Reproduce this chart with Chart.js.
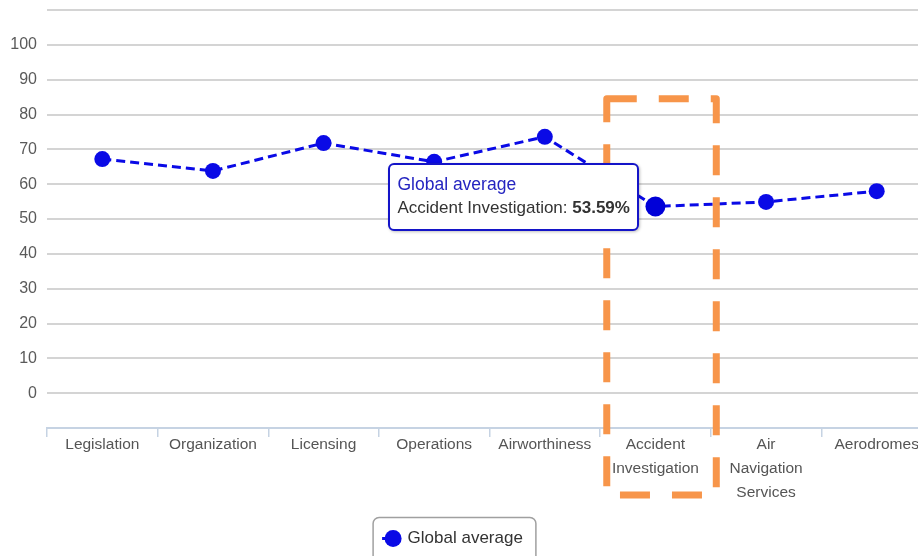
<!DOCTYPE html>
<html>
<head>
<meta charset="utf-8">
<script src="https://cdn.jsdelivr.net/npm/chart.js@4/dist/chart.umd.min.js"></script>
<style>
  html, body { margin: 0; padding: 0; background: #fff; overflow: hidden; }
  #wrap { position: relative; width: 942px; height: 580px; }
  #tip {
    position: absolute; background: #fff; border: 2px solid #1414c8; border-radius: 6px;
    padding: 7px 7px 9px 7px; font-family: "Liberation Sans", Arial, sans-serif;
    white-space: nowrap; box-shadow: 1px 1px 3px rgba(0,0,0,0.25); pointer-events: none;
    opacity: 0;
  }
  #tip .t { color: #2424c0; font-size: 17.5px; line-height: 24px; }
  #tip .b { color: #333; font-size: 17px; line-height: 24px; }
</style>
</head>
<body>
<div id="wrap">
  <canvas id="chart" width="942" height="580"></canvas>
  <div id="tip"></div>
</div>
<script>
// categorías y valores
const CATEGORIES = ['Legislation', 'Organization', 'Licensing', 'Operations', 'Airworthiness',
                    ['Accident', 'Investigation'], ['Air', 'Navigation', 'Services'], 'Aerodromes'];
const CAT_NAMES = ['Legislation', 'Organization', 'Licensing', 'Operations', 'Airworthiness',
                   'Accident Investigation', 'Air Navigation Services', 'Aerodromes'];
const GLOBAL_AVG = [67.2, 63.8, 71.8, 66.4, 73.6, 53.59, 54.9, 58.0];
const SERIES_NAME = 'Global average';
const Y_TICKS = [0, 10, 20, 30, 40, 50, 60, 70, 80, 90, 100];
const HIGHLIGHT = 5;   // categoría marcada (tooltip + recuadro naranja)

const FONT = '"Liberation Sans", Arial, sans-serif';
const BLUE = '#0a0ae6';
const GRID = '#d4d4d4';
const AXIS = '#c6d3e3';

/* ─── recuadro naranja discontinuo alrededor de la categoría ─── */
const highlightBox = {
  id: 'highlightBox',
  afterDraw(chart) {
    const x = chart.scales.x, y = chart.scales.y;
    const step = x.getPixelForValue(1) - x.getPixelForValue(0);
    const cx = x.getPixelForValue(HIGHLIGHT);
    const left = cx - 0.44 * step, right = cx + 0.55 * step;
    const top = y.getPixelForValue(84.5), bottom = chart.chartArea.bottom + 67;
    const ctx = chart.ctx;
    ctx.save();
    ctx.strokeStyle = '#f7954a';
    ctx.lineWidth = 7;
    ctx.setLineDash([30, 22]);
    ctx.lineJoin = 'round';
    ctx.beginPath();
    ctx.rect(left, top, right - left, bottom - top);
    ctx.stroke();
    ctx.restore();
  }
};

/* ─── marco gris alrededor de la leyenda (y leyenda algo a la izquierda) ─── */
const legendFrame = {
  id: 'legendFrame',
  afterLayout(chart) {
    chart.legend.left -= 16;
    chart.legend.right -= 16;
  },
  beforeDraw(chart) {
    const hb = chart.legend.legendHitBoxes[0];
    if (!hb) return;
    const ctx = chart.ctx;
    const cy = hb.top + hb.height / 2;
    ctx.save();
    ctx.strokeStyle = '#a0a0a0';
    ctx.lineWidth = 1.5;
    ctx.beginPath();
    ctx.roundRect(hb.left - 14, cy - 21, hb.width + 27, 60, 6);
    ctx.stroke();
    // pequeño trazo a la izquierda del marcador, como en el original
    ctx.strokeStyle = BLUE;
    ctx.lineWidth = 3;
    ctx.beginPath();
    ctx.moveTo(hb.left - 5, cy);
    ctx.lineTo(hb.left + 4, cy);
    ctx.stroke();
    ctx.restore();
  }
};

/* ─── tooltip HTML (valor en negrita) ─── */
function externalTip(context) {
  const tip = document.getElementById('tip');
  const model = context.tooltip;
  if (model.opacity === 0 || !model.dataPoints || !model.dataPoints.length) { tip.style.opacity = 0; return; }
  const dp = model.dataPoints[0];
  tip.innerHTML = `<div class="t">${SERIES_NAME}</div>` +
    `<div class="b">${CAT_NAMES[dp.dataIndex]}: <b>${GLOBAL_AVG[dp.dataIndex].toFixed(2)}%</b></div>`;
  tip.style.opacity = 1;
  tip.style.left = (model.caretX - 16 - tip.offsetWidth) + 'px';
  tip.style.top = (model.caretY - 43) + 'px';
}

const chart = new Chart(document.getElementById('chart'), {
  type: 'line',
  data: {
    labels: CATEGORIES,
    datasets: [{
      label: SERIES_NAME,
      data: GLOBAL_AVG,
      borderColor: BLUE,
      backgroundColor: BLUE,
      borderWidth: 3,
      borderDash: [9, 5],
      pointRadius: 8,
      pointHoverRadius: 10,
      pointBackgroundColor: BLUE,
      pointBorderWidth: 0,
      pointHoverBorderWidth: 0,
      tension: 0
    }]
  },
  options: {
    responsive: false,
    animation: false,
    layout: { padding: { top: 10, bottom: 23, left: 0, right: 0 } },
    plugins: {
      legend: {
        position: 'bottom',
        labels: {
          usePointStyle: true, pointStyle: 'circle', boxWidth: 12, boxHeight: 12,
          color: '#333', padding: 10, font: { family: FONT, size: 17 }
        }
      },
      tooltip: { enabled: false, external: externalTip, mode: 'nearest', intersect: true }
    },
    scales: {
      x: {
        offset: true,
        afterFit: s => { s.height = 92; },
        grid: { offset: true, drawOnChartArea: false, tickLength: 9, color: AXIS, lineWidth: 1.5 },
        border: { color: AXIS, width: 2 },
        ticks: { color: '#555', maxRotation: 0, autoSkip: false, padding: -4,
                 font: { family: FONT, size: 15.5, lineHeight: 1.55 } }
      },
      y: {
        min: -10, max: 110,
        afterFit: s => { s.width = 47; s.paddingTop = 0; s.paddingBottom = 0; },
        afterBuildTicks: s => { s.ticks = [-10, ...Y_TICKS, 110].map(v => ({ value: v })); },
        grid: { drawTicks: false, color: c => c.tick && c.tick.value === -10 ? AXIS : GRID, lineWidth: 2 },
        border: { display: false },
        ticks: {
          padding: 10, color: '#5a5a5a', font: { family: FONT, size: 16 },
          callback: v => Y_TICKS.includes(v) ? v : ''
        }
      }
    }
  },
  plugins: [highlightBox, legendFrame]
});

// dejar el punto de Accident Investigation activo con su tooltip
chart.setActiveElements([{ datasetIndex: 0, index: HIGHLIGHT }]);
const el = chart.getDatasetMeta(0).data[HIGHLIGHT];
chart.tooltip.setActiveElements([{ datasetIndex: 0, index: HIGHLIGHT }], { x: el.x, y: el.y });
chart.update();
</script>
</body>
</html>
